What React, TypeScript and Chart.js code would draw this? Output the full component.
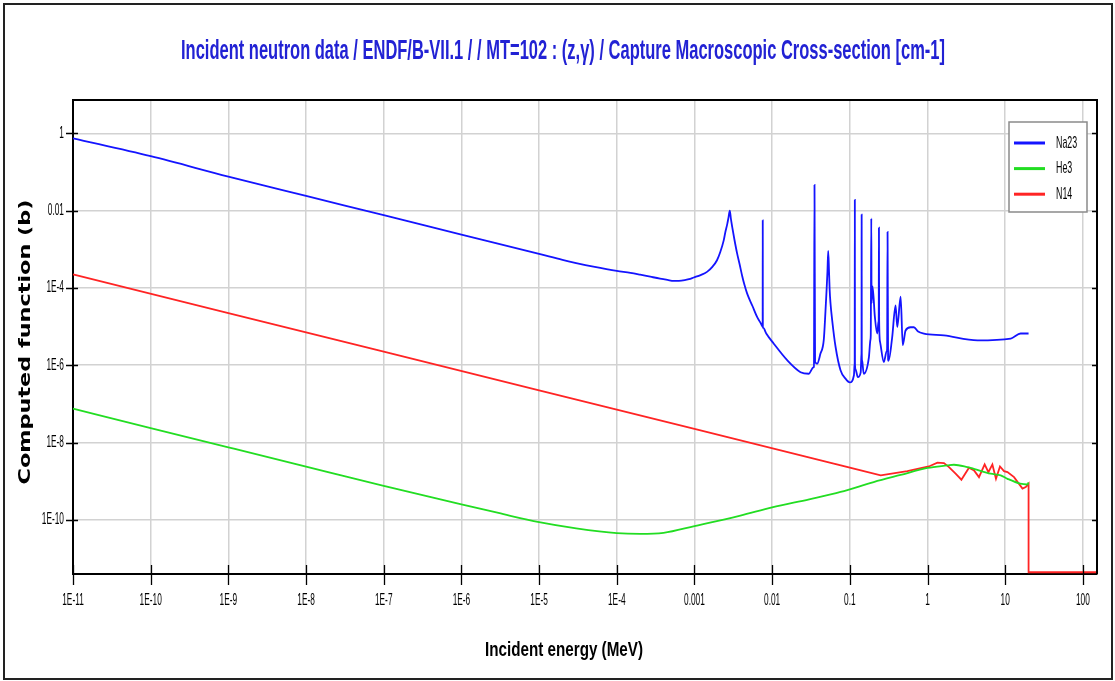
import React, { useEffect, useRef } from 'react';
import { Chart, registerables } from 'chart.js';

Chart.register(...registerables);

// ---------- texts ----------
const chartTitle =
  'Incident neutron data / ENDF/B-VII.1 / / MT=102 : (z,γ) / Capture Macroscopic Cross-section [cm-1]';
const xAxisTitle = 'Incident energy (MeV)';
const yAxisTitle = 'Computed function (b)';
const seriesNames = ['Na23', 'He3', 'N14'];
const seriesColors = ['#1414ff', '#22dd22', '#ff2424'];

// ---------- axes ----------
const xAxisMin = 1e-11;
const xAxisMax = 152;
const yAxisMin = 3.96e-12;
const yAxisMax = 7.27;
const xTickValues = [1e-11, 1e-10, 1e-9, 1e-8, 1e-7, 1e-6, 1e-5, 1e-4, 1e-3, 1e-2, 1e-1, 1, 10, 100];
const xTickLabels = ['1E-11', '1E-10', '1E-9', '1E-8', '1E-7', '1E-6', '1E-5', '1E-4', '0.001', '0.01', '0.1', '1', '10', '100'];
const yTickValues = [1, 1e-2, 1e-4, 1e-6, 1e-8, 1e-10];
const yTickLabels = ['1', '0.01', '1E-4', '1E-6', '1E-8', '1E-10'];

// ---------- Na23 ----------
const na23Energy = [
  1e-11, 1e-10, 1e-9, 1e-8, 1e-7, 1e-6, 1e-5, 2e-5, 3e-5, 5e-5, 1e-4, 1.5e-4, 2e-4, 2.7e-4, 3.6e-4, 4.5e-4,
  5.4e-4, 6.3e-4, 7.5e-4, 8.5e-4, 9.8e-4, 1.2e-3, 1.45e-3, 1.7e-3, 1.95e-3, 2.15e-3, 2.38e-3, 2.5e-3,
  2.65e-3, 2.75e-3, 2.85e-3, 2.95e-3, 3.06e-3, 3.25e-3, 3.54e-3, 3.8e-3, 4.1e-3, 4.4e-3, 4.77e-3, 5.58e-3,
  6.4e-3, 7.0e-3, 7.45e-3, 7.55e-3, 7.57e-3, 7.59e-3, 7.7e-3, 8.4e-3, 1.05e-2, 1.56e-2, 2.32e-2, 2.97e-2,
  3.27e-2, 3.4e-2, 3.45e-2, 3.51e-2, 3.57e-2, 3.62e-2, 3.8e-2, 4.19e-2, 4.62e-2, 4.86e-2, 5.0e-2, 5.15e-2,
  5.27e-2, 5.4e-2, 5.5e-2, 5.64e-2, 5.93e-2, 6.55e-2, 7.59e-2, 8.8e-2, 0.1, 0.113, 0.115, 0.1155, 0.116,
  0.1165, 0.118, 0.127, 0.138, 0.141, 0.1415, 0.142, 0.1425, 0.144, 0.151, 0.176, 0.184, 0.186, 0.189,
  0.1905, 0.196, 0.21, 0.225, 0.234, 0.2355, 0.237, 0.2385, 0.245, 0.274, 0.298, 0.302, 0.306, 0.311,
  0.315, 0.35, 0.388, 0.408, 0.451, 0.48, 0.522, 0.605, 0.668, 0.757, 0.9, 1.63, 4.4, 11.8, 15.8, 20,
];
const na23Values = [
  0.74, 0.255, 0.076, 0.024, 0.0076, 0.0024, 7.6e-4, 5.3e-4, 4.4e-4, 3.55e-4, 2.75e-4, 2.45e-4, 2.2e-4, 1.95e-4, 1.74e-4, 1.61e-4,
  1.52e-4, 1.52e-4, 1.58e-4, 1.68e-4, 1.86e-4, 2.15e-4, 2.6e-4, 3.5e-4, 5.2e-4, 8.5e-4, 1.7e-3, 2.8e-3,
  4.6e-3, 6.8e-3, 1.0e-2, 6.0e-3, 3.8e-3, 1.9e-3, 7.8e-4, 4.2e-4, 2.1e-4, 1.2e-4, 7.1e-5, 3.4e-5,
  1.78e-5, 1.3e-5, 1.03e-5, 9.8e-6, 5.6e-3, 9.7e-6, 9.2e-6, 6.6e-6, 3.6e-6, 1.35e-6, 6.6e-7, 6.0e-7,
  8.1e-7, 8.8e-7, 9e-7, 4.6e-2, 1.2e-6, 1.15e-6, 1.1e-6, 2.0e-6, 4.5e-6, 2.5e-5, 7.5e-5, 2.6e-4,
  9.0e-4, 2.6e-4, 9.0e-5, 4.0e-5, 1.45e-5, 3.0e-6, 7.4e-7, 4.5e-7, 3.6e-7, 5.5e-7, 1.0e-6, 1.2e-6, 1.9e-2,
  1.1e-6, 8.0e-7, 4.9e-7, 6.5e-7, 1.8e-6, 2.4e-6, 7.9e-3, 2.0e-6, 1.3e-6, 6.0e-7, 1.6e-6, 4.5e-6, 6.0e-6, 6.3e-3,
  4.0e-5, 1.1e-4, 1.8e-5, 6.6e-6, 1.3e-5, 1.6e-5, 3.6e-3, 1.5e-5, 4.0e-6, 1.2e-6, 2.3e-6, 2.6e-6, 2.8e-3, 1.4e-6,
  1.3e-6, 5.0e-6, 3.5e-5, 9.8e-6, 5.9e-5, 3.3e-6, 7.9e-6, 9.6e-6, 9.6e-6, 7.4e-6, 6.6e-6, 5.9e-6, 4.4e-6, 4.9e-6, 6.6e-6, 6.6e-6,
];

// ---------- He3 ----------
const he3Energy = [
  1e-11, 1e-10, 1e-9, 1e-8, 1e-7, 1e-6, 3e-6, 1e-5, 3e-5, 1e-4, 2e-4, 4e-4, 1e-3, 3.9e-3, 1e-2, 3e-2,
  7.6e-2, 0.203, 0.45, 1.0, 1.8, 2.19, 3.26, 3.94, 6.5, 8.75, 10.7, 15.6, 19.3, 20,
];
const he3Values = [
  7.5e-8, 2.37e-8, 7.5e-9, 2.38e-9, 7.6e-10, 2.5e-10, 1.5e-10, 8.7e-11, 6.0e-11, 4.5e-11, 4.3e-11, 4.6e-11,
  6.9e-11, 1.29e-10, 2.1e-10, 3.4e-10, 5.25e-10, 9.5e-10, 1.45e-9, 2.2e-9, 2.55e-9, 2.66e-9, 2.31e-9, 2.09e-9,
  1.56e-9, 1.41e-9, 1.15e-9, 8.6e-10, 8.2e-10, 9.2e-10,
];

// ---------- N14 ----------
const n14Floor = 4.4e-12;
const n14Energy = [
  1e-11, 1e-9, 1e-7, 1e-5, 1e-3, 0.1, 0.25, 0.55, 1.04, 1.34, 1.63, 1.89, 2.3, 2.73, 3.42, 3.97, 4.6,
  5.44, 6.08, 6.84, 7.61, 8.57, 9.66, 10.7, 13.0, 16.7, 18.4, 20, 20, 152,
];
const n14Values = [
  2.24e-4, 2.24e-5, 2.24e-6, 2.24e-7, 2.24e-8, 2.24e-9, 1.41e-9, 1.82e-9, 2.4e-9, 3.0e-9, 2.92e-9, 2.31e-9,
  1.56e-9, 1.09e-9, 2.22e-9, 1.89e-9, 1.27e-9, 2.71e-9, 1.71e-9, 2.71e-9, 1.15e-9, 2.4e-9, 1.82e-9, 1.71e-9,
  1.27e-9, 6.4e-10, 7.0e-10, 8.6e-10, n14Floor, n14Floor,
];

const toPoints = (xs: number[], ys: number[]) => xs.map((x, i) => ({ x, y: ys[i] }));

function drawText(
  ctx: CanvasRenderingContext2D,
  text: string,
  x: number,
  y: number,
  font: string,
  color: string,
  align: CanvasTextAlign,
  opts: { sx?: number; sy?: number; width?: number; rotate?: number } = {}
) {
  ctx.save();
  ctx.font = font;
  ctx.fillStyle = color;
  ctx.textAlign = align;
  ctx.textBaseline = 'middle';
  let sx = opts.sx ?? 1;
  if (opts.width) sx = opts.width / ctx.measureText(text).width;
  ctx.translate(x, y);
  if (opts.rotate) ctx.rotate(opts.rotate);
  ctx.scale(sx, opts.sy ?? 1);
  ctx.fillText(text, 0, 0);
  ctx.restore();
}

const overlayPlugin = {
  id: 'overlay',
  beforeDraw(chart: any) {
    const ctx = chart.ctx as CanvasRenderingContext2D;
    ctx.save();
    ctx.fillStyle = '#ffffff';
    ctx.fillRect(0, 0, chart.width, chart.height);
    ctx.restore();
  },
  afterDraw(chart: any) {
    const ctx = chart.ctx as CanvasRenderingContext2D;
    const a = chart.chartArea;
    const xs = chart.scales.x;
    const ys = chart.scales.y;
    ctx.save();

    // top and right frame of the plot
    ctx.strokeStyle = '#000';
    ctx.lineWidth = 2;
    ctx.beginPath();
    ctx.moveTo(a.left, a.top);
    ctx.lineTo(a.right, a.top);
    ctx.lineTo(a.right, a.bottom);
    ctx.stroke();

    // tick marks
    ctx.lineWidth = 1.3;
    ctx.strokeStyle = '#000';
    ctx.beginPath();
    xTickValues.forEach((v) => {
      const px = Math.round(xs.getPixelForValue(v)) + 0.5;
      ctx.moveTo(px, a.bottom - 9);
      ctx.lineTo(px, a.bottom + 11);
    });
    yTickValues.forEach((v) => {
      const py = Math.round(ys.getPixelForValue(v)) + 0.5;
      ctx.moveTo(a.left - 7, py);
      ctx.lineTo(a.left + 5, py);
      ctx.moveTo(a.right - 5, py);
      ctx.lineTo(a.right + 1, py);
    });
    ctx.stroke();

    // tick labels
    const tickFont = '16px "Liberation Sans", Arial, sans-serif';
    xTickValues.forEach((v, i) => {
      drawText(ctx, xTickLabels[i], xs.getPixelForValue(v), a.bottom + 27, tickFont, '#000', 'center', { sx: 0.52 });
    });
    yTickValues.forEach((v, i) => {
      drawText(ctx, yTickLabels[i], a.left - 9, ys.getPixelForValue(v), tickFont, '#000', 'right', { sx: 0.52 });
    });

    // chart title
    drawText(ctx, chartTitle, 563, 51, 'bold 28px "Liberation Sans", Arial, sans-serif', '#2222d4', 'center', { width: 764 });
    // x axis title
    drawText(ctx, xAxisTitle, 564, 650, 'bold 21px "Liberation Sans", Arial, sans-serif', '#000', 'center', { width: 158 });
    // y axis title
    drawText(ctx, yAxisTitle, 26, 342, 'bold 18px "DejaVu Sans", Verdana, sans-serif', '#000', 'center', {
      width: 285,
      sy: 0.85,
      rotate: -Math.PI / 2,
    });

    // legend
    const lx = 1009, ly = 122, lw = 78, lh = 90;
    ctx.fillStyle = '#fff';
    ctx.fillRect(lx, ly, lw, lh);
    ctx.strokeStyle = '#8a8a8a';
    ctx.lineWidth = 1.5;
    ctx.strokeRect(lx, ly, lw, lh);
    seriesNames.forEach((name, i) => {
      const yy = 143 + i * 25.6;
      ctx.strokeStyle = seriesColors[i];
      ctx.lineWidth = 3;
      ctx.beginPath();
      ctx.moveTo(1014, yy);
      ctx.lineTo(1045, yy);
      ctx.stroke();
      drawText(ctx, name, 1056, yy, '17px "Liberation Sans", Arial, sans-serif', '#000', 'left', { sx: 0.52 });
    });

    // outer frame
    ctx.strokeStyle = '#222';
    ctx.lineWidth = 2;
    ctx.strokeRect(4, 4, 1108, 675);

    ctx.restore();
  },
};

export default function App() {
  const canvasRef = useRef<HTMLCanvasElement | null>(null);

  useEffect(() => {
    const canvas = canvasRef.current;
    if (!canvas) return;
    const mk = (label: string, pts: { x: number; y: number }[], color: string, smooth: boolean) => ({
      label,
      data: pts,
      showLine: true,
      borderColor: color,
      backgroundColor: color,
      borderWidth: 1.8,
      pointRadius: 0,
      fill: false,
      cubicInterpolationMode: smooth ? ('monotone' as const) : ('default' as const),
      tension: 0,
      clip: 3,
    });
    const chart = new Chart(canvas, {
      type: 'scatter',
      data: {
        datasets: [
          mk(seriesNames[0], toPoints(na23Energy, na23Values), seriesColors[0], true),
          mk(seriesNames[1], toPoints(he3Energy, he3Values), seriesColors[1], true),
          mk(seriesNames[2], toPoints(n14Energy, n14Values), seriesColors[2], false),
        ],
      },
      options: {
        animation: false,
        responsive: false,
        devicePixelRatio: 1,
        events: [],
        layout: { padding: { left: 0, top: 100, right: 18, bottom: 0 } },
        scales: {
          x: {
            type: 'logarithmic',
            min: xAxisMin,
            max: xAxisMax,
            afterFit: (s: any) => {
              s.height = 107;
            },
            afterBuildTicks: (s: any) => {
              s.ticks = xTickValues.map((v) => ({ value: v }));
            },
            ticks: { display: false },
            grid: { color: '#d2d2d2', lineWidth: 1.5, drawTicks: false },
            border: { display: true, color: '#000', width: 2 },
          },
          y: {
            type: 'logarithmic',
            min: yAxisMin,
            max: yAxisMax,
            afterFit: (s: any) => {
              s.width = 73;
            },
            afterBuildTicks: (s: any) => {
              s.ticks = yTickValues.map((v) => ({ value: v }));
            },
            ticks: { display: false },
            grid: { color: '#d2d2d2', lineWidth: 1.5, drawTicks: false },
            border: { display: true, color: '#000', width: 2 },
          },
        },
        plugins: {
          legend: { display: false },
          title: { display: false },
          tooltip: { enabled: false },
        },
      } as any,
      plugins: [overlayPlugin],
    });
    return () => chart.destroy();
  }, []);

  return (
    <div style={{ position: 'fixed', left: 0, top: 0, width: 1115, height: 681, background: '#fff' }}>
      <canvas ref={canvasRef} width={1115} height={681} style={{ display: 'block' }} />
    </div>
  );
}
